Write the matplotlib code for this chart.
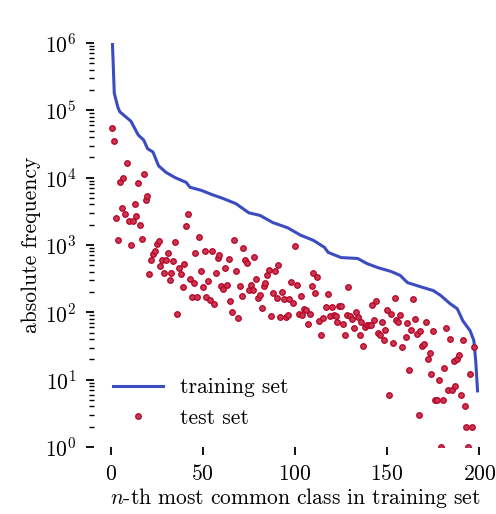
import numpy as np
import matplotlib
matplotlib.use('Agg')
from matplotlib import pyplot as plt

plt.rcParams.update({
    'font.family': 'serif',
    'font.serif': ['cmr10'],
    'mathtext.fontset': 'cm',
    'axes.formatter.use_mathtext': True,
    'font.size': 15.5,
})

# training set: class rank -> absolute frequency
train_rank = [1, 2, 3, 4, 5, 11, 15, 18, 20, 23, 26, 30, 35, 41, 43, 49, 55, 61,
              68, 75, 81, 88, 96, 103, 110, 116, 118, 125, 134, 139, 145, 152,
              157, 161, 168, 175, 179, 184, 188, 191, 195, 197, 198, 199]
train_freq = [1e6, 1.8e5, 1.4e5, 1.1e5, 9.5e4, 6.9e4, 4.3e4, 3.6e4, 2.7e4, 2.4e4,
              1.5e4, 1.2e4, 1.0e4, 8500, 7200, 6500, 5600, 4900, 4100, 3000, 2750,
              2150, 1800, 1400, 1170, 920, 775, 650, 630, 530, 460, 405, 354, 276,
              240, 210, 178, 135, 113, 75, 53, 38, 19, 6.8]

# test set: class rank (by training frequency) -> absolute frequency
test_rank = [1, 2, 3, 4, 5, 6, 7, 8, 9, 10, 11, 12, 13, 14, 15, 16, 17, 18, 19, 20,
             21, 22, 23, 24, 25, 26, 27, 28, 29, 30, 31, 32, 33, 34, 35, 36, 37, 38,
             39, 40, 41, 42, 43, 44, 45, 46, 47, 48, 49, 50,
             51, 52, 53, 54, 55, 56, 57, 58, 59, 60, 61, 62, 63, 64, 65, 66, 67, 68,
             69, 70, 71, 72, 73, 74, 75, 76, 77, 78, 79, 80, 81, 82, 83, 84, 85, 86,
             87, 88, 89, 90, 91, 92, 93, 94, 95, 96, 97, 98, 99, 100,
             101, 102, 103, 104, 105, 106, 107, 108, 109, 110, 111, 112, 113, 114,
             115, 117, 118, 119, 120, 121, 122, 123, 124, 125, 126, 127, 128, 129,
             130, 131, 132, 133, 134, 135, 136, 137, 138, 139, 140, 141, 142, 143,
             144, 145, 146, 147, 148, 149, 150,
             151, 152, 153, 154, 155, 156, 157, 158, 160, 161, 162, 163, 164, 165,
             166, 167, 168, 169, 170, 171, 172, 173, 174, 175, 176, 177, 178, 179,
             180, 181, 182, 183, 184, 185, 186, 187, 188, 189, 190, 191, 192, 193,
             194, 195, 196, 197]
test_freq = [55000, 35000, 2500, 1200, 8700, 3500, 10000, 2900, 16500, 2300, 990,
             2300, 4000, 2700, 8300, 1950, 1240, 11200, 4700, 5300,
             372, 600, 740, 800, 1040, 1150, 490, 600, 389, 600, 773, 306, 389, 588,
             1090, 93, 451, 367, 239, 525, 1905, 2870, 317, 171, 277, 755, 171, 1306,
             407, 241,
             809, 167, 293, 153, 809, 135, 380, 645, 698, 247, 225, 458, 255, 623,
             149, 102, 1195, 413, 82, 247, 173, 896, 608, 543, 215, 258, 215, 658,
             317, 165, 181, 117, 244, 270, 355, 432, 88, 192, 413, 164, 507, 86, 198,
             156, 86, 92, 156, 279, 136, 960,
             255, 95, 177, 92, 112, 110, 67, 95, 244, 380, 192, 332, 74, 46, 82,
             119, 188, 89, 120, 91, 89, 73, 126, 124, 66, 46, 91, 239, 88, 79, 58,
             102, 86, 46, 73, 32, 61, 64, 64, 64, 130, 77, 148, 49, 46, 72, 39, 55,
             110,
             6, 93, 35, 161, 77, 71, 92, 31, 43, 69, 14, 55, 160, 80, 48, 3, 52, 32,
             34, 72, 20, 25, 12, 53, 5, 5, 10, 1, 5, 15, 59, 7, 40, 7, 19, 8, 20, 23,
             6, 39, 4, 2, 1, 12, 2, 31]

fig = plt.figure(figsize=(4.96, 5.14), dpi=100)
ax = fig.add_axes([0.1895, 0.1304, 0.8105, 0.786])

ax.plot(train_rank, train_freq, color='#3b4cc0', linewidth=2.2, label='training set',
        zorder=2)
ax.plot(test_rank, test_freq, linestyle='none', marker='o', markersize=4.0,
        markerfacecolor='#cc3550', markeredgecolor='#b40426', markeredgewidth=0.9,
        label='test set', zorder=3)

ax.set_yscale('log')
ax.set_ylim(1, 1e6)
ax.set_xlim(-9, 209)
ax.set_xticks([0, 50, 100, 150, 200])

for s in ax.spines.values():
    s.set_visible(False)
ax.tick_params(which='major', length=6, width=1.3, direction='out', pad=6.5)
ax.tick_params(which='minor', length=3.5, width=1.0, direction='out')

ax.set_ylabel('absolute frequency', labelpad=3)
ax.set_xlabel(r'$n$-th most common class in training set', labelpad=1)

ax.legend(loc='lower left', frameon=False, handlelength=2.3)

fig.savefig('out.png', dpi=100)
